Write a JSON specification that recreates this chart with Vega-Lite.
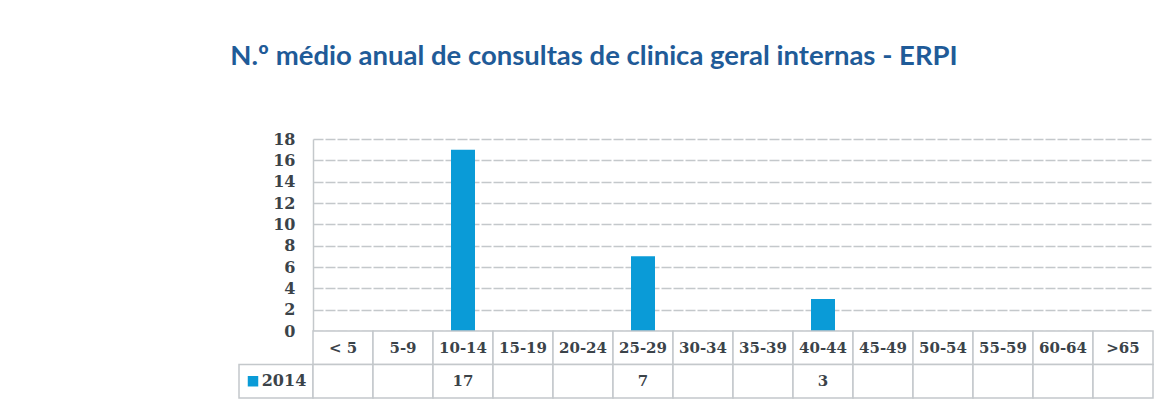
{
  "$schema": "https://vega.github.io/schema/vega-lite/v6.json",
  "padding": {"left": 223, "top": 42, "right": 5, "bottom": 5},
  "background": "white",
  "title": {
    "text": "N.º médio  anual de consultas de clinica  geral internas - ERPI",
    "font": "Lato", "fontSize": 27.5, "fontWeight": "bold", "color": "#1f5b98",
    "anchor": "middle", "dx": -102, "offset": 61
  },
  "datasets": {
    "consultas": [
      {"faixa": "< 5", "consultas": null},
      {"faixa": "5-9", "consultas": null},
      {"faixa": "10-14", "consultas": 17},
      {"faixa": "15-19", "consultas": null},
      {"faixa": "20-24", "consultas": null},
      {"faixa": "25-29", "consultas": 7},
      {"faixa": "30-34", "consultas": null},
      {"faixa": "35-39", "consultas": null},
      {"faixa": "40-44", "consultas": 3},
      {"faixa": "45-49", "consultas": null},
      {"faixa": "50-54", "consultas": null},
      {"faixa": "55-59", "consultas": null},
      {"faixa": "60-64", "consultas": null},
      {"faixa": ">65", "consultas": null}
    ],
    "serie": [{"serie": "2014"}]
  },
  "columns": 2,
  "spacing": 0,
  "align": "each",
  "bounds": "flush",
  "resolve": {"scale": {"x": "independent", "y": "independent"}},
  "concat": [
    {
      "width": 74, "height": 192,
      "data": {"name": "consultas"},
      "mark": {"type": "tick", "opacity": 0},
      "encoding": {
        "y": {
          "field": "consultas", "type": "quantitative",
          "scale": {"domain": [0, 18], "nice": false},
          "axis": {
            "orient": "left", "offset": -74, "values": [0, 2, 4, 6, 8, 10, 12, 14, 16, 18],
            "domain": false, "ticks": false, "tickSize": 0, "grid": false,
            "labelPadding": 18, "labelFont": "DejaVu Serif", "labelFontWeight": "bold",
            "labelFontSize": 16, "labelColor": "#3b4349", "labelOverlap": false,
            "labelFlush": false, "title": null
          }
        }
      }
    },
    {
      "width": 840, "height": 192,
      "data": {"name": "consultas"},
      "mark": {"type": "bar", "color": "#0a9bd7", "width": {"band": 0.4}},
      "encoding": {
        "x": {
          "field": "faixa", "type": "nominal", "sort": null,
          "scale": {"domain": ["< 5", "5-9", "10-14", "15-19", "20-24", "25-29", "30-34", "35-39", "40-44", "45-49", "50-54", "55-59", "60-64", ">65"], "paddingInner": 0, "paddingOuter": 0},
          "axis": null
        },
        "y": {
          "field": "consultas", "type": "quantitative",
          "scale": {"domain": [0, 18], "nice": false},
          "axis": {
            "values": [0, 2, 4, 6, 8, 10, 12, 14, 16, 18],
            "labels": false, "ticks": false, "domain": true,
            "domainColor": "#c4c8cb", "domainWidth": 1.5,
            "grid": true, "gridColor": "#c4c8cb", "gridWidth": 1.5, "gridDash": [10, 2],
            "title": null
          }
        }
      }
    },
    {
      "width": 74, "height": 67,
      "data": {"name": "serie"},
      "layer": [
        {
          "mark": {"type": "rect", "fill": "white", "stroke": "#c4c8cb", "strokeWidth": 1.5},
          "encoding": {
            "y": {"datum": "v", "type": "nominal", "scale": {"domain": ["h", "v"], "paddingInner": 0, "paddingOuter": 0}, "axis": null}
          }
        },
        {
          "mark": {"type": "square", "filled": true, "color": "#0a9bd7", "opacity": 1, "size": 110, "xOffset": -23},
          "encoding": {"y": {"datum": "v", "type": "nominal"}}
        },
        {
          "mark": {"type": "text", "font": "DejaVu Serif", "fontWeight": "bold", "fontSize": 16, "color": "#3b4349", "dx": 8},
          "encoding": {"y": {"datum": "v", "type": "nominal"}, "text": {"field": "serie"}}
        }
      ]
    },
    {
      "width": 840, "height": 67,
      "data": {"name": "consultas"},
      "encoding": {
        "x": {
          "field": "faixa", "type": "nominal", "sort": null,
          "scale": {"domain": ["< 5", "5-9", "10-14", "15-19", "20-24", "25-29", "30-34", "35-39", "40-44", "45-49", "50-54", "55-59", "60-64", ">65"], "paddingInner": 0, "paddingOuter": 0},
          "axis": null
        }
      },
      "layer": [
        {
          "mark": {"type": "rect", "fill": "white", "stroke": "#c4c8cb", "strokeWidth": 1.5},
          "encoding": {"y": {"datum": "h", "type": "nominal", "scale": {"domain": ["h", "v"], "paddingInner": 0, "paddingOuter": 0}, "axis": null}}
        },
        {
          "mark": {"type": "rect", "fill": "white", "stroke": "#c4c8cb", "strokeWidth": 1.5},
          "encoding": {"y": {"datum": "v", "type": "nominal"}}
        },
        {
          "mark": {"type": "text", "font": "DejaVu Serif", "fontWeight": "bold", "fontSize": 15, "color": "#3b4349"},
          "encoding": {"y": {"datum": "h", "type": "nominal"}, "text": {"field": "faixa"}}
        },
        {
          "transform": [{"filter": "datum.consultas != null"}],
          "mark": {"type": "text", "font": "DejaVu Serif", "fontWeight": "bold", "fontSize": 15, "color": "#3b4349"},
          "encoding": {"y": {"datum": "v", "type": "nominal"}, "text": {"field": "consultas", "type": "quantitative"}}
        }
      ]
    }
  ],
  "config": {"view": {"stroke": null}}
}
